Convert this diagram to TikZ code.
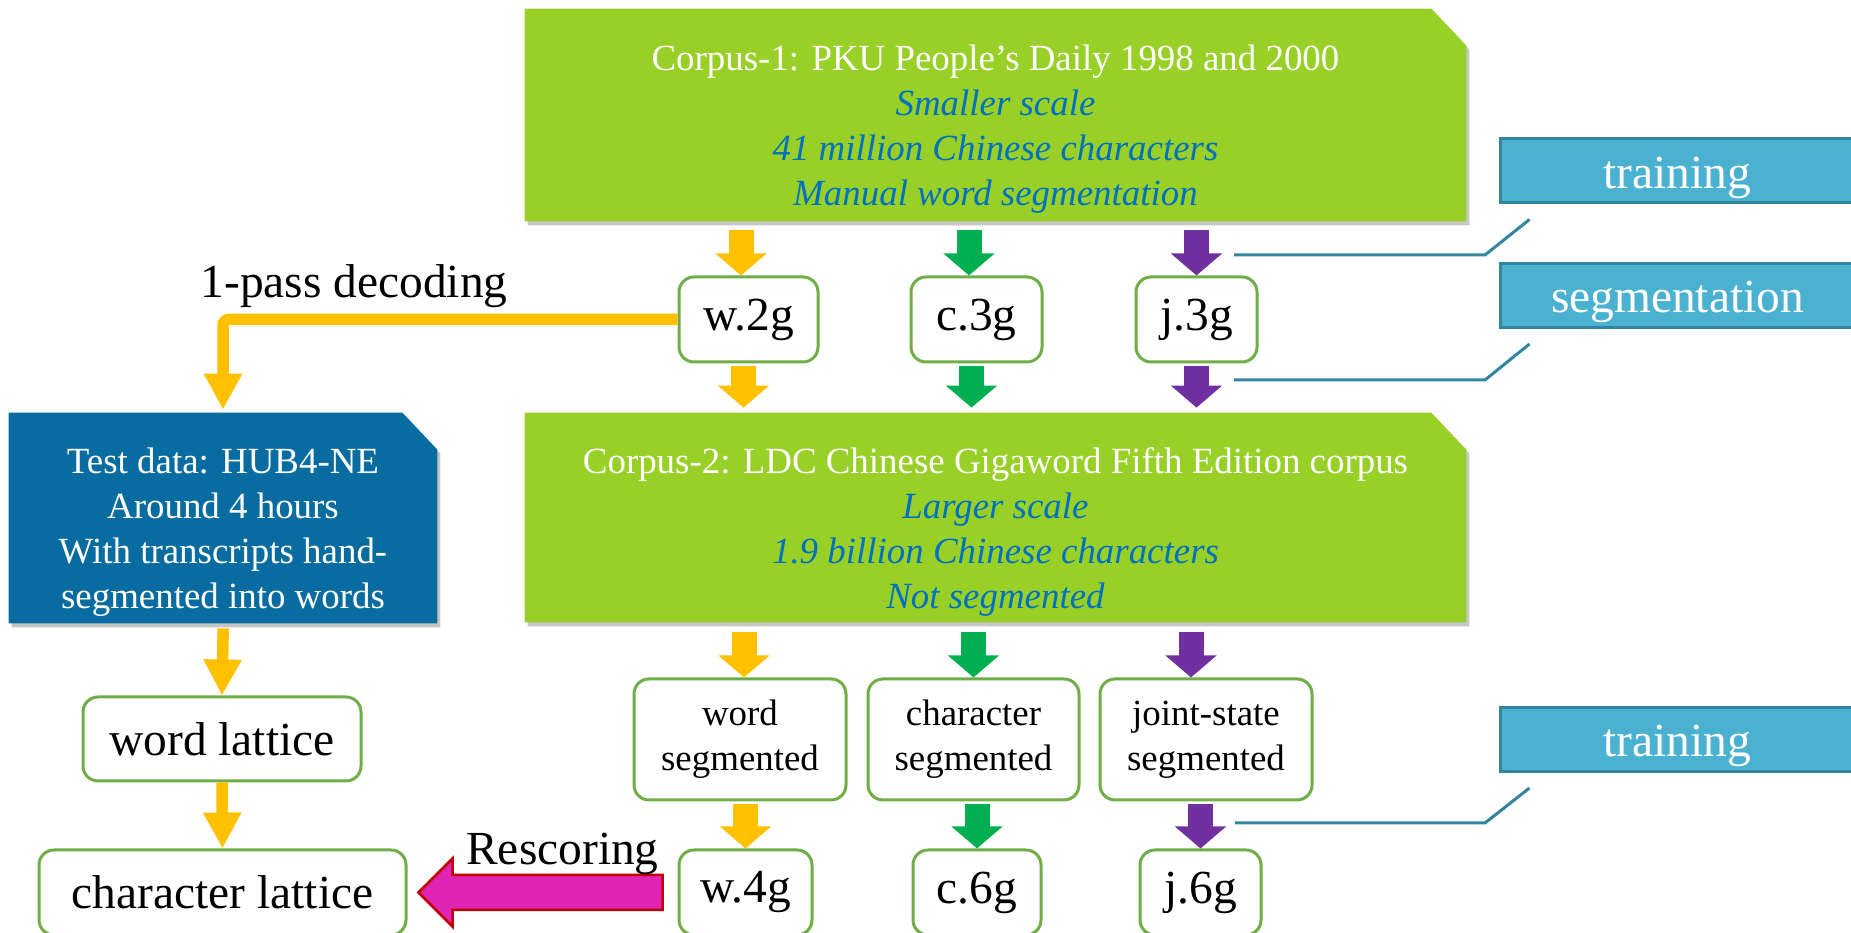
\documentclass[tikz,border=0pt]{standalone}
\usepackage{fontspec}
\setmainfont{Liberation Serif}
\usetikzlibrary{calc}
\usetikzlibrary{arrows.meta}
\usetikzlibrary{shadows}
\usetikzlibrary{backgrounds}
\definecolor{corpusgreen}{RGB}{152,208,40}
\definecolor{itblue}{RGB}{0,112,192}
\definecolor{testblue}{RGB}{8,108,160}
\definecolor{boxgreen}{RGB}{112,173,71}
\definecolor{tagblue}{RGB}{75,177,208}
\definecolor{tagline}{RGB}{49,133,156}
\definecolor{arrorange}{RGB}{255,192,0}
\definecolor{arrgreen}{RGB}{0,176,80}
\definecolor{arrpurple}{RGB}{112,48,160}
\definecolor{rescmagenta}{RGB}{224,36,180}
\definecolor{rescred}{RGB}{192,0,0}
\newcommand{\corpusnote}[1]{\textcolor{itblue}{\textit{#1}}}
% plate with the top right corner cut off, drawn behind node #1
\newcommand{\cutplate}[2]{%
  \begin{pgfonlayer}{background}
  \fill[#2, drop shadow={shadow xshift=0.06cm, shadow yshift=-0.08cm, opacity=0.45}]
    ([yshift=0.28cm]#1.south west) -- ([yshift=0.28cm]#1.north west)
    -- ([xshift=-0.7cm,yshift=0.28cm]#1.north east) -- ([yshift=-0.46cm]#1.north east)
    -- ([yshift=0.28cm]#1.south east) -- cycle;
  \end{pgfonlayer}}
\tikzset{
  corpus/.style={
    text=white, align=center, inner sep=0pt,
    font=\fontsize{21}{25.6}\selectfont
  },
  sbox/.style={
    draw=boxgreen, line width=0.06cm, rounded corners=0.3cm, fill=white,
    inner sep=0pt, font=\fontsize{27}{32}\selectfont
  },
  segbox/.style={sbox, align=center, font=\fontsize{21}{25.6}\selectfont},
  tag/.style={
    draw=tagline, line width=0.06cm, fill=tagblue, text=white,
    text height=0.75cm, text depth=0.05cm,
    font=\fontsize{27}{32}\selectfont
  },
  lbl/.style={font=\fontsize{27}{32}\selectfont},
  blk/.style={line width=0.5cm, -{Triangle[width=1cm,length=0.44cm]}},
  thinarr/.style={arrorange, line width=0.23cm, -{Triangle[width=0.72cm,length=0.72cm]}},
  callout/.style={tagline, line width=0.06cm},
  rescore/.style={fill=rescmagenta, draw=rescred, line width=0.05cm},
  fat arrow/.style={
    to path={
      ($(\tikztostart)+(0,0.35)$) -- ($(\tikztotarget)+(0.68,0.35)$)
      -- ($(\tikztotarget)+(0.68,0.68)$) -- (\tikztotarget)
      -- ($(\tikztotarget)+(0.68,-0.68)$) -- ($(\tikztotarget)+(0.68,-0.35)$)
      -- ($(\tikztostart)+(0,-0.35)$) -- cycle
    }
  }
}

\begin{document}
\begin{tikzpicture}
\useasboundingbox (0,0) rectangle (37.02,18.66);
% corpora and test data (text sits a little below the middle of the plate)
\node[corpus, minimum width=18.82cm, minimum height=4.24cm] (c1) at (19.91,16.08)
  {Corpus-1: PKU People's Daily 1998 and 2000\\ \corpusnote{Smaller scale}\\
   \corpusnote{41 million Chinese characters}\\ \corpusnote{Manual word segmentation}};
\node[corpus, minimum width=18.82cm, minimum height=4.18cm] (c2) at (19.91,8.03)
  {Corpus-2: LDC Chinese Gigaword Fifth Edition corpus\\ \corpusnote{Larger scale}\\
   \corpusnote{1.9 billion Chinese characters}\\ \corpusnote{Not segmented}};
\node[corpus, minimum width=8.56cm, minimum height=4.2cm] (td) at (4.46,8.02)
  {Test data: HUB4-NE\\Around 4 hours\\With transcripts hand-\\segmented into words};
\cutplate{c1}{corpusgreen}
\cutplate{c2}{corpusgreen}
\cutplate{td}{testblue}
% language models
\node[sbox, minimum width=2.78cm, minimum height=1.7cm] (w2) at (14.97,12.27) {w.2g};
\node[sbox, minimum width=2.62cm, minimum height=1.7cm] (c3) at (19.53,12.27) {c.3g};
\node[sbox, minimum width=2.42cm, minimum height=1.7cm] (j3) at (23.93,12.27) {j.3g};
\node[segbox, minimum width=4.24cm, minimum height=2.42cm] (ws) at (14.8,3.87) {word\\segmented};
\node[segbox, minimum width=4.22cm, minimum height=2.42cm] (cs) at (19.47,3.87) {character\\segmented};
\node[segbox, minimum width=4.24cm, minimum height=2.42cm] (js) at (24.12,3.87) {joint-state\\segmented};
\node[sbox, minimum width=2.66cm, minimum height=1.7cm] (w4) at (14.91,0.81) {w.4g};
\node[sbox, minimum width=2.56cm, minimum height=1.7cm] (c6) at (19.54,0.81) {c.6g};
\node[sbox, minimum width=2.42cm, minimum height=1.7cm] (j6) at (24.01,0.81) {j.6g};
% lattices
\node[sbox, minimum width=5.56cm, minimum height=1.68cm] (wl) at (4.44,3.88) {word lattice};
\node[sbox, minimum width=7.34cm, minimum height=1.7cm] (cl) at (4.45,0.81) {character lattice};
% tags on the right
\node[tag, minimum width=7.1cm, minimum height=1.28cm] (tr1) at (33.55,15.24) {training};
\node[tag, minimum width=7.1cm, minimum height=1.28cm] (sg) at (33.55,12.75) {segmentation};
\node[tag, minimum width=7.1cm, minimum height=1.28cm] (tr2) at (33.55,3.87) {training};

\draw[blk, arrorange, shorten <=-0.1cm] ($(w2.north |- c1.south)+(-0.15,0)$) -- ($(w2.north)+(-0.15,0)$);
\draw[blk, arrgreen, shorten <=-0.1cm] ($(c3.north |- c1.south)+(-0.15,0)$) -- ($(c3.north)+(-0.15,0)$);
\draw[blk, arrpurple, shorten <=-0.1cm] (j3.north |- c1.south) -- (j3.north);
\draw[blk, arrorange, shorten <=0.06cm, shorten >=0.38cm] ($(w2.south)+(-0.1,0)$) -- ($(w2.south |- c2.north)+(-0.1,0)$);
\draw[blk, arrgreen, shorten <=0.06cm, shorten >=0.38cm] ($(c3.south)+(-0.1,0)$) -- ($(c3.south |- c2.north)+(-0.1,0)$);
\draw[blk, arrpurple, shorten <=0.06cm, shorten >=0.38cm] (j3.south) -- (j3.south |- c2.north);
\draw[blk, arrorange, shorten <=-0.08cm] ($(ws.north |- c2.south)+(0.08,0)$) -- ($(ws.north)+(0.08,0)$);
\draw[blk, arrgreen, shorten <=-0.08cm] (cs.north |- c2.south) -- (cs.north);
\draw[blk, arrpurple, shorten <=-0.08cm] ($(js.north |- c2.south)+(-0.3,0)$) -- ($(js.north)+(-0.3,0)$);
\draw[blk, arrorange, shorten <=0.06cm] (w4.north |- ws.south) -- (w4.north);
\draw[blk, arrgreen, shorten <=0.06cm] (c6.north |- cs.south) -- (c6.north);
\draw[blk, arrpurple, shorten <=0.06cm] (j6.north |- js.south) -- (j6.north);

% decoding and rescoring
\draw[thinarr, rounded corners=0.12cm, shorten >=0.34cm] (w2.west) -| (td.north);
\draw[thinarr, shorten <=-0.18cm] (td.south) -- (wl.north);
\draw[thinarr] (wl.south) -- (cl.north);
\node[lbl, anchor=base] (dec) at (7.08,12.7) {1-pass decoding};
\coordinate (rs) at ([xshift=-0.3cm]w4.west);
\coordinate (re) at ([xshift=0.22cm]cl.east);
\draw[rescore] (rs) to[fat arrow] (re);
\node[lbl, anchor=base] (resc) at (11.25,1.36) {Rescoring};

% callouts
\coordinate (t1) at (24.68,13.56);
\coordinate (t2) at (24.68,11.06);
\coordinate (t3) at (24.7,2.2);
\draw[callout] (t1) -- ++(5.02,0) -- ([shift={(0.62,-0.3)}]tr1.south west);
\draw[callout] (t2) -- ++(5.02,0) -- ([shift={(0.62,-0.3)}]sg.south west);
\draw[callout] (t3) -- ++(5.0,0) -- ([shift={(0.62,-0.3)}]tr2.south west);
\end{tikzpicture}
\end{document}
